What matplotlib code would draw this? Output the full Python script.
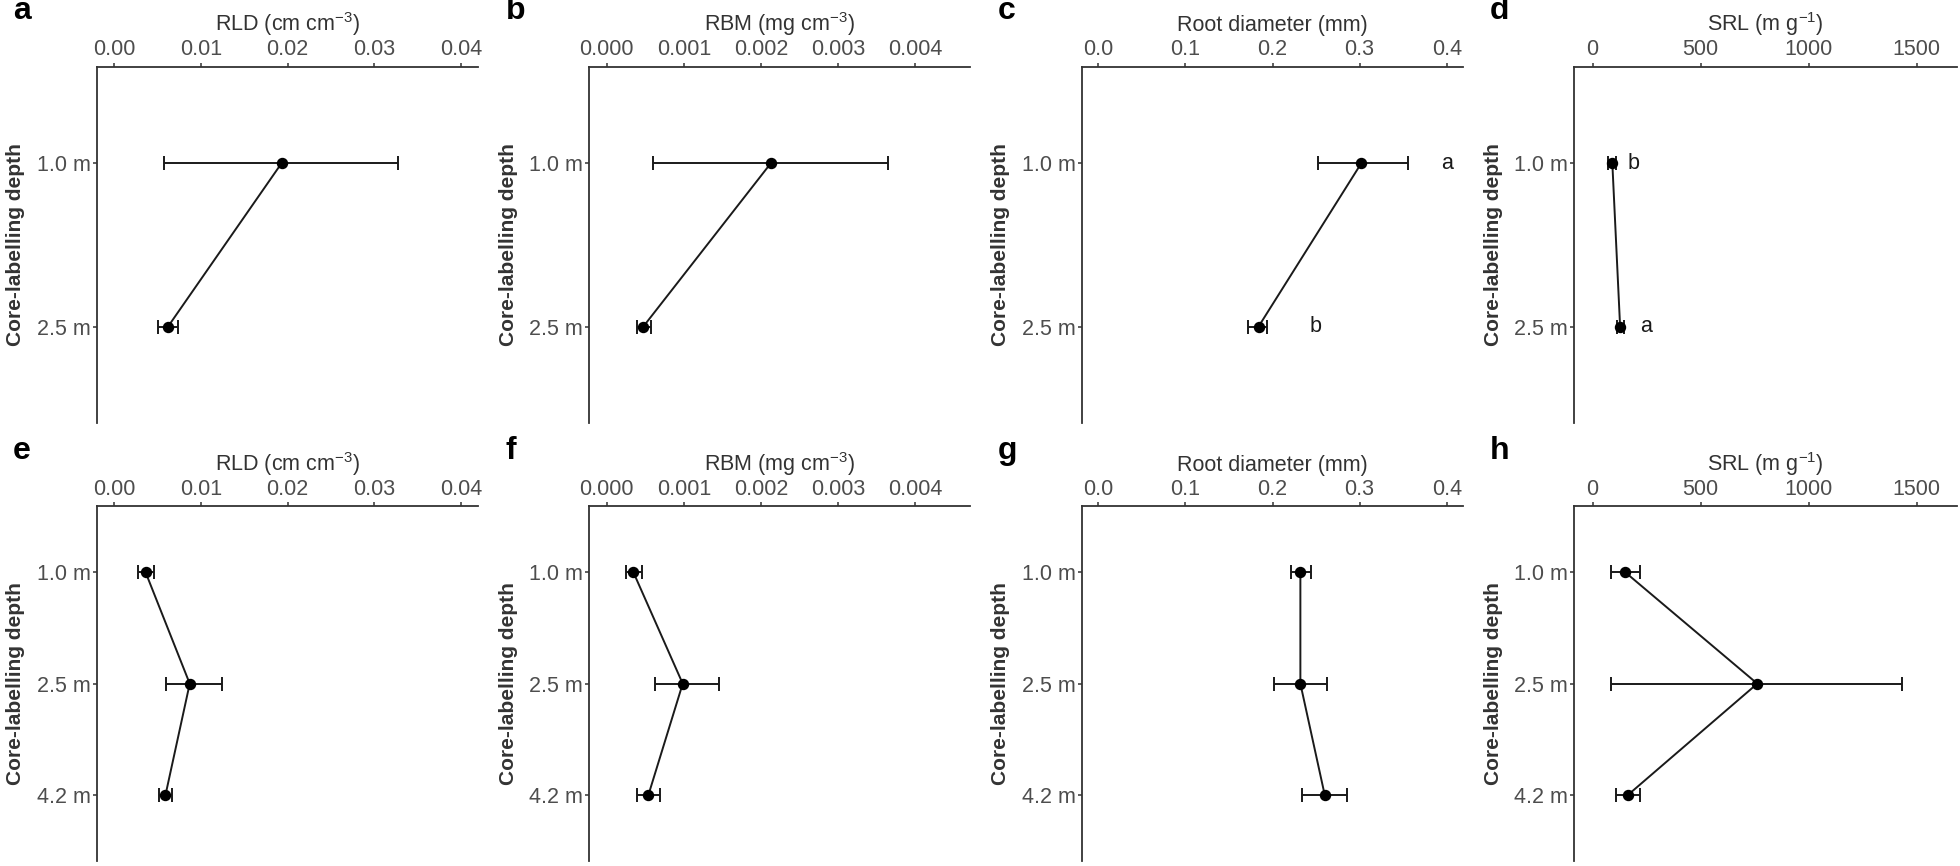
import numpy as np
import matplotlib
matplotlib.use('Agg')
import matplotlib.pyplot as plt

plt.rcParams['font.family'] = ['Liberation Sans', 'DejaVu Sans']
plt.rcParams['mathtext.fontset'] = 'custom'
plt.rcParams['mathtext.rm'] = 'Liberation Sans'
plt.rcParams['mathtext.it'] = 'Liberation Sans:italic'

# depth categories
depths_top = ['1.0 m', '2.5 m']
depths_bot = ['1.0 m', '2.5 m', '4.2 m']

# top row (a-d): mean, lower and upper end of error bar
rld_a = [0.0193, 0.0062]
rld_a_lo = [0.0057, 0.0050]
rld_a_hi = [0.0327, 0.0074]

rbm_b = [0.00213, 0.000475]
rbm_b_lo = [0.00060, 0.00039]
rbm_b_hi = [0.00365, 0.00057]

diam_c = [0.302, 0.184]
diam_c_lo = [0.252, 0.172]
diam_c_hi = [0.355, 0.194]

srl_d = [91, 127]
srl_d_lo = [73, 111]
srl_d_hi = [107, 145]

# bottom row (e-h)
rld_e = [0.0036, 0.0087, 0.0059]
rld_e_lo = [0.0027, 0.0060, 0.0051]
rld_e_hi = [0.0046, 0.0124, 0.0066]

rbm_f = [0.000345, 0.000986, 0.00054]
rbm_f_lo = [0.00025, 0.00063, 0.00039]
rbm_f_hi = [0.00046, 0.00146, 0.00069]

diam_g = [0.232, 0.232, 0.260]
diam_g_lo = [0.221, 0.202, 0.234]
diam_g_hi = [0.244, 0.263, 0.286]

srl_h = [150, 762, 162]
srl_h_lo = [85, 85, 106]
srl_h_hi = [219, 1433, 219]

# significance letters
c_letters = ['a', 'b']
c_letter_x = [0.40, 0.25]
d_letters = ['b', 'a']
d_letter_x = [190, 245]

rld_title = r'RLD (cm cm$^{-3}$)'
rbm_title = r'RBM (mg cm$^{-3}$)'
diam_title = 'Root diameter (mm)'
srl_title = r'SRL (m g$^{-1}$)'

rld_ticks = [0.00, 0.01, 0.02, 0.03, 0.04]
rbm_ticks = [0.000, 0.001, 0.002, 0.003, 0.004]
diam_ticks = [0.0, 0.1, 0.2, 0.3, 0.4]
srl_ticks = [0, 500, 1000, 1500]

W, H = 1960, 866
fig = plt.figure(figsize=(W / 100, H / 100), dpi=100)

col_px = [(96.7, 478), (589.3, 970), (1081.7, 1463.3), (1574.3, 1956.7)]
row_px = [(66.7, 423), (506.3, 861)]

dark = '#333333'
grey = '#4d4d4d'


def make_ax(col, row):
    x0, x1 = col_px[col]
    y0, y1 = row_px[row]
    return fig.add_axes([x0 / W, 1 - y1 / H, (x1 - x0) / W, (y1 - y0) / H])


def panel(ax, depths, mean, lo, hi, title, ticks, fmt, xlim, letter):
    y = np.arange(1, len(depths) + 1)
    mean = np.array(mean)
    err = [mean - np.array(lo), np.array(hi) - mean]
    ax.plot(mean, y, color='#1a1a1a', lw=1.4, zorder=2)
    ax.errorbar(mean, y, xerr=err, fmt='none', ecolor='#1a1a1a',
                elinewidth=1.4, capsize=4.7, capthick=1.4, zorder=3)
    ax.plot(mean, y, 'o', color='black', ms=7.2, zorder=4)

    ax.set_xlim(*xlim)
    ax.set_ylim(len(depths) + 0.59, 0.41)
    ax.set_yticks(y)
    ax.set_yticklabels(depths)
    ax.set_xticks(ticks)
    ax.set_xticklabels([fmt % t for t in ticks])

    ax.xaxis.tick_top()
    ax.xaxis.set_label_position('top')
    ax.set_xlabel(title, fontsize=15.5, color=dark, labelpad=6)
    ax.set_ylabel('Core-labelling depth', fontsize=15, fontweight='bold',
                  color=dark, labelpad=8)
    ax.tick_params(axis='both', labelsize=15.5, labelcolor=grey, color=dark,
                   length=3, width=1.1, pad=1.5)
    for s in ['bottom', 'right']:
        ax.spines[s].set_visible(False)
    for s in ['top', 'left']:
        ax.spines[s].set_color(dark)
        ax.spines[s].set_linewidth(1.3)
    ax.text(-0.22, 1.155, letter, transform=ax.transAxes, fontsize=23,
            fontweight='bold', va='center', ha='left')
    return ax


rld_lim = (-0.00203, 0.04195)
rbm_lim = (-0.000226, 0.004713)
diam_lim = (-0.019, 0.419)
srl_lim = (-85, 1685)

ax_a = panel(make_ax(0, 0), depths_top, rld_a, rld_a_lo, rld_a_hi, rld_title, rld_ticks, '%.2f', rld_lim, 'a')
ax_b = panel(make_ax(1, 0), depths_top, rbm_b, rbm_b_lo, rbm_b_hi, rbm_title, rbm_ticks, '%.3f', rbm_lim, 'b')
ax_c = panel(make_ax(2, 0), depths_top, diam_c, diam_c_lo, diam_c_hi, diam_title, diam_ticks, '%.1f', diam_lim, 'c')
ax_d = panel(make_ax(3, 0), depths_top, srl_d, srl_d_lo, srl_d_hi, srl_title, srl_ticks, '%d', srl_lim, 'd')
ax_e = panel(make_ax(0, 1), depths_bot, rld_e, rld_e_lo, rld_e_hi, rld_title, rld_ticks, '%.2f', rld_lim, 'e')
ax_f = panel(make_ax(1, 1), depths_bot, rbm_f, rbm_f_lo, rbm_f_hi, rbm_title, rbm_ticks, '%.3f', rbm_lim, 'f')
ax_g = panel(make_ax(2, 1), depths_bot, diam_g, diam_g_lo, diam_g_hi, diam_title, diam_ticks, '%.1f', diam_lim, 'g')
ax_h = panel(make_ax(3, 1), depths_bot, srl_h, srl_h_lo, srl_h_hi, srl_title, srl_ticks, '%d', srl_lim, 'h')

for i, (lt, lx) in enumerate(zip(c_letters, c_letter_x)):
    ax_c.text(lx, i + 1, lt, fontsize=15.5, color='#1a1a1a', ha='center', va='center')
for i, (lt, lx) in enumerate(zip(d_letters, d_letter_x)):
    ax_d.text(lx, i + 1, lt, fontsize=15.5, color='#1a1a1a', ha='center', va='center')

fig.savefig('out.png', dpi=100)
